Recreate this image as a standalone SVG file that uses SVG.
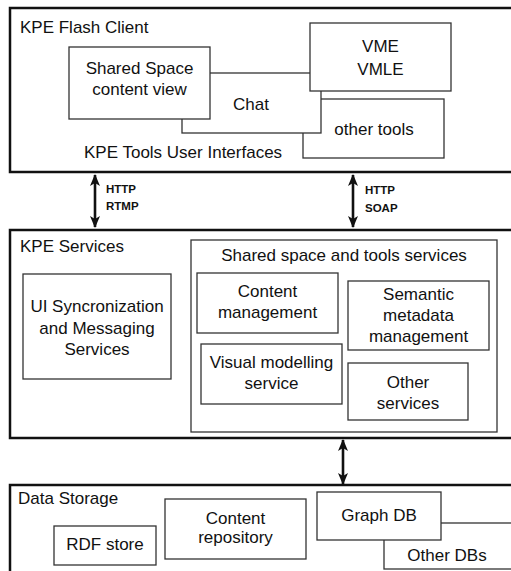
<svg xmlns="http://www.w3.org/2000/svg" width="511" height="571" viewBox="0 0 511 571">
  <style>
    .layer { fill: #ffffff; stroke: #111111; stroke-width: 2.5; }
    .box { fill: #ffffff; stroke: #333333; stroke-width: 1.3; }
    text { font-family: "Liberation Sans", Arial, sans-serif; font-size: 17px; fill: #111111; }
    .c { text-anchor: middle; }
    .proto { font-size: 11.5px; font-weight: bold; }
    .link { stroke: #111111; stroke-width: 2.6; fill: none; marker-start: url(#head); marker-end: url(#head); }
  </style>
  <defs>
    <marker id="head" viewBox="0 0 12 10" refX="11" refY="5" markerWidth="12" markerHeight="10" markerUnits="userSpaceOnUse" orient="auto-start-reverse">
      <path d="M0,0 L12,5 L0,10 L3,5 Z" fill="#111111"/>
    </marker>
  </defs>

  <rect width="511" height="571" fill="#ffffff"/>

  <!-- Client tier -->
  <g id="flash-client">
    <rect class="layer" x="10" y="8" width="520" height="164"/>
    <text x="20" y="33">KPE Flash Client</text>
    <text x="84" y="158">KPE Tools User Interfaces</text>
  </g>
  <g id="other-tools">
    <rect class="box" x="303" y="99" width="141" height="59"/>
    <text class="c" x="374" y="135">other tools</text>
  </g>
  <g id="chat">
    <rect class="box" x="182" y="73" width="139" height="60"/>
    <text class="c" x="251" y="110">Chat</text>
  </g>
  <g id="shared-space-view">
    <rect class="box" x="69" y="47" width="141" height="72"/>
    <text class="c" x="139.5" y="74">Shared Space</text>
    <text class="c" x="139.5" y="95">content view</text>
  </g>
  <g id="vme">
    <rect class="box" x="310" y="23" width="141" height="68"/>
    <text class="c" x="380.5" y="52">VME</text>
    <text class="c" x="380.5" y="75">VMLE</text>
  </g>

  <!-- Service tier -->
  <g id="kpe-services">
    <rect class="layer" x="10" y="230" width="520" height="208"/>
    <text x="20" y="252">KPE Services</text>
  </g>
  <g id="ui-sync">
    <rect class="box" x="23" y="274" width="148" height="105"/>
    <text class="c" x="97" y="312">UI Syncronization</text>
    <text class="c" x="97" y="333.5">and Messaging</text>
    <text class="c" x="97" y="355">Services</text>
  </g>
  <g id="tools-services">
    <rect class="box" x="191" y="240" width="306" height="192"/>
    <text class="c" x="344" y="261">Shared space and tools services</text>
  </g>
  <g id="content-management">
    <rect class="box" x="197" y="273" width="141" height="60"/>
    <text class="c" x="267.5" y="297">Content</text>
    <text class="c" x="267.5" y="318">management</text>
  </g>
  <g id="semantic-metadata">
    <rect class="box" x="348" y="281" width="141" height="69"/>
    <text class="c" x="418.5" y="300">Semantic</text>
    <text class="c" x="418.5" y="321">metadata</text>
    <text class="c" x="418.5" y="342">management</text>
  </g>
  <g id="visual-modelling">
    <rect class="box" x="201" y="344" width="141" height="60"/>
    <text class="c" x="271.5" y="368">Visual modelling</text>
    <text class="c" x="271.5" y="389">service</text>
  </g>
  <g id="other-services">
    <rect class="box" x="348" y="363" width="120" height="57"/>
    <text class="c" x="408" y="388">Other</text>
    <text class="c" x="408" y="409">services</text>
  </g>

  <!-- Storage tier -->
  <g id="data-storage">
    <rect class="layer" x="10" y="485" width="520" height="100"/>
    <text x="18" y="504">Data Storage</text>
  </g>
  <g id="rdf-store">
    <rect class="box" x="54" y="526" width="102" height="39"/>
    <text class="c" x="105" y="550">RDF store</text>
  </g>
  <g id="content-repository">
    <rect class="box" x="165" y="499" width="141" height="60"/>
    <text class="c" x="235.5" y="524">Content</text>
    <text class="c" x="235.5" y="543">repository</text>
  </g>
  <g id="other-dbs">
    <rect class="box" x="384" y="523" width="140" height="46"/>
    <text class="c" x="447" y="561">Other DBs</text>
  </g>
  <g id="graph-db">
    <rect class="box" x="317" y="492" width="124" height="48"/>
    <text class="c" x="379" y="521">Graph DB</text>
  </g>

  <!-- Protocol links between tiers -->
  <g id="connectors">
    <line class="link" x1="95" y1="175" x2="95" y2="227"/>
    <text class="proto" x="106" y="193">HTTP</text>
    <text class="proto" x="106" y="210">RTMP</text>
    <line class="link" x1="353" y1="175" x2="353" y2="227"/>
    <text class="proto" x="365" y="194">HTTP</text>
    <text class="proto" x="365" y="212">SOAP</text>
    <line class="link" x1="343" y1="440" x2="343" y2="484"/>
  </g>
</svg>
